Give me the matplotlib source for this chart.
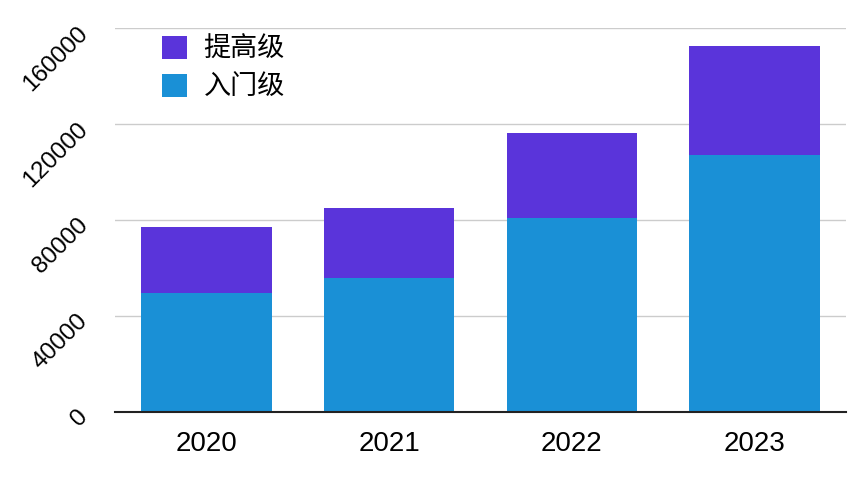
import matplotlib
matplotlib.use("Agg")
import matplotlib.pyplot as plt
import numpy as np

plt.rcParams['font.family'] = ['Liberation Sans', 'Noto Sans CJK SC', 'DejaVu Sans']

years = ['2020', '2021', '2022', '2023']
entry = [49700, 56000, 80800, 107300]      # 入门级
advanced_total = [77200, 85200, 116100, 152800]
advanced = [t - e for t, e in zip(advanced_total, entry)]  # 提高级
y_ticks = [0, 40000, 80000, 120000, 160000]

c_entry = '#1A90D6'
c_adv = '#5A34DA'

fig = plt.figure(figsize=(8.65, 4.79), dpi=100)
ax = fig.add_axes([115/865, 1 - 411.7/479, (846-115)/865, (411.7-28.3)/479])

x = np.arange(len(years))
b1 = ax.bar(x, entry, width=0.715, color=c_entry, label='入门级', zorder=3)
b2 = ax.bar(x, advanced, width=0.715, bottom=entry, color=c_adv, label='提高级', zorder=3)

ax.set_xlim(-0.5, 3.5)
ax.set_ylim(0, 160000)
ax.set_yticks(y_ticks)
ax.set_yticklabels([str(v) for v in y_ticks])
ax.set_xticks(x)
ax.set_xticklabels(years, fontsize=20)

for lab in ax.get_yticklabels():
    lab.set_rotation(45)
    lab.set_rotation_mode('anchor')
    lab.set_ha('right')
    lab.set_va('center_baseline')
    lab.set_fontsize(17.5)

ax.tick_params(axis='y', length=0, pad=23)
ax.tick_params(axis='x', length=0, pad=14)
ax.grid(axis='y', color='#cccccc', linewidth=1.0, zorder=0)
ax.set_axisbelow(True)
for s in ['top', 'right', 'left']:
    ax.spines[s].set_visible(False)
ax.spines['bottom'].set_color('#222222')
ax.spines['bottom'].set_linewidth(1.5)
ax.spines['bottom'].set_zorder(4)

leg = ax.legend(handles=[b2, b1], labels=['提高级', '入门级'], loc='upper left',
                bbox_to_anchor=((161.7-115)/731, 1 - (35.7-28.3)/383.4),
                frameon=False, borderpad=0, borderaxespad=0,
                handlelength=0.95, handleheight=0.95, handletextpad=0.6,
                labelspacing=0.42, prop={'family': ['Noto Sans CJK SC', 'DejaVu Sans'], 'size': 19.5})

fig.savefig('out.png', dpi=100)
